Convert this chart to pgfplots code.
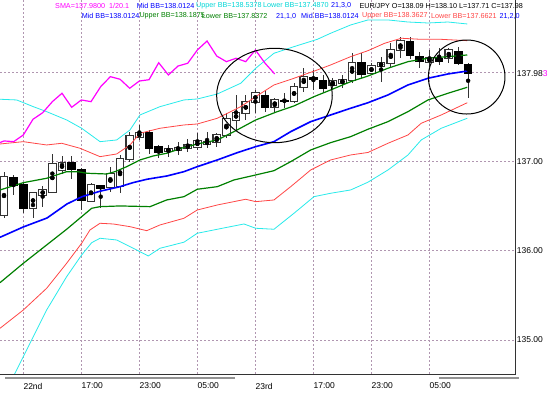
\documentclass[border=0pt]{standalone}
\usepackage{fontspec}
\setmainfont{Liberation Sans}
\usepackage{pgfplots}
\pgfplotsset{compat=1.18}
\usepackage{pgfplotstable}

\definecolor{mtmag}{RGB}{255,0,255}
\definecolor{mtblue}{RGB}{0,0,255}
\definecolor{mtcyan}{RGB}{40,235,235}
\definecolor{mtcyantxt}{RGB}{0,215,215}
\definecolor{mtgreen}{RGB}{0,128,0}
\definecolor{mtred}{RGB}{255,70,70}
\definecolor{gridc}{RGB}{176,150,176}
\newcommand{\hdr}{\fontsize{7.2}{8}\selectfont}
\newcommand{\lbl}{\fontsize{8.5}{10}\selectfont}

% white (rising) candles
\pgfplotstableread{
k O H L C
0 136.401 136.882 136.367 136.830
3 136.476 136.662 136.364 136.651
4 136.625 136.726 136.490 136.681
5 136.662 137.084 136.644 136.972
6 136.905 137.062 136.860 136.983
9 136.558 136.756 136.550 136.737
11 136.718 136.942 136.662 136.857
12 136.726 137.073 136.647 137.028
13 137.025 137.334 136.994 137.286
14 137.275 137.409 137.241 137.323
17 137.118 137.185 137.054 137.140
18 137.129 137.222 137.073 137.155
19 137.148 137.249 137.110 137.185
20 137.166 137.323 137.129 137.230
21 137.196 137.334 137.148 137.222
22 137.222 137.316 137.166 137.297
23 137.297 137.540 137.260 137.473
24 137.465 137.745 137.353 137.546
25 137.546 137.745 137.465 137.670
26 137.670 137.801 137.543 137.764
28 137.607 137.708 137.558 137.689
30 137.681 137.876 137.652 137.838
31 137.838 138.047 137.782 137.950
34 137.857 137.932 137.801 137.901
35 137.876 137.969 137.820 137.916
36 137.913 138.215 137.876 138.106
38 137.988 138.100 137.965 138.069
39 138.069 138.170 137.890 138.100
40 138.100 138.324 138.062 138.249
41 138.249 138.398 138.155 138.349
44 138.118 138.249 138.062 138.156
46 138.156 138.268 138.100 138.249
}\whitec

% black (falling) candles
\pgfplotstableread{
k O H L C
1 136.819 136.849 136.625 136.729
2 136.745 136.756 136.420 136.476
7 136.987 137.062 136.801 136.913
8 136.913 136.924 136.457 136.558
10 136.729 136.737 136.476 136.692
15 137.323 137.353 137.084 137.148
16 137.166 137.185 137.036 137.099
27 137.737 137.801 137.558 137.607
29 137.689 137.767 137.599 137.670
32 137.943 138.025 137.801 137.921
33 137.909 137.969 137.764 137.820
37 138.106 138.212 137.932 137.969
42 138.349 138.391 138.144 138.181
43 138.181 138.230 138.044 138.118
45 138.156 138.268 138.081 138.118
47 138.230 138.286 138.081 138.100
48 138.090 138.100 137.710 137.980
}\blackc

% SMA(1) shifted
\pgfplotstableread{
k v
-1 137.185
0 137.230
1 137.222
2 137.297
3 137.473
4 137.546
5 137.670
6 137.764
7 137.607
8 137.689
9 137.670
10 137.838
11 137.950
12 137.921
13 137.820
14 137.901
15 137.916
16 138.106
17 137.969
18 138.069
19 138.100
20 138.249
21 138.349
22 138.181
23 138.118
24 138.156
25 138.118
26 138.249
27 138.100
28 137.980
}\sma

\pgfplotsset{
  body/.style 2 args={only marks, mark=none, forget plot,
    error bars/.cd, y dir=both, y explicit, error mark=none,
    error bar style={line width=#1, #2}},
}

\begin{document}
\begin{tikzpicture}
\useasboundingbox (0,0) rectangle (552pt,393pt);
\fill[white] (0,0) rectangle (552pt,393pt);
\begin{axis}[at={(0pt,19pt)}, anchor=south west, scale only axis,
  width=515.7pt, height=374pt,
  xmin=-0.414, xmax=52.92, ymin=134.620, ymax=138.8085,
  axis line style={draw=none}, major tick length=0pt,
  xtick={2,8,14,20,26,32,38,44},
  xticklabels={22nd,17:00,23:00,05:00,23rd,17:00,23:00,05:00},
  xticklabel style={anchor=west, inner sep=0pt, yshift=-12pt, font=\lbl},
  ytick={135,136,137,138}, yticklabels={135.00,136.00,137.00,{}},
  yticklabel pos=right,
  yticklabel style={anchor=west, inner sep=0pt, xshift=1pt, font=\lbl},
  grid=major, major grid style={gridc, dash pattern=on 2pt off 2pt, line width=0.6pt},
]
% wicks
\addplot[body={1pt}{black!80}]
  table[x=k, y expr={(\thisrow{H}+\thisrow{L})/2}, y error expr={(\thisrow{H}-\thisrow{L})/2}] {\whitec};
\addplot[body={1pt}{black!80}]
  table[x=k, y expr={(\thisrow{H}+\thisrow{L})/2}, y error expr={(\thisrow{H}-\thisrow{L})/2}] {\blackc};
% black bodies
\addplot[body={8.6pt}{black}]
  table[x=k, y expr={(\thisrow{O}+\thisrow{C})/2}, y error expr={(\thisrow{O}-\thisrow{C})/2+0.004}] {\blackc};
% white bodies: dark outline, then white fill
\addplot[body={8.6pt}{black!80}]
  table[x=k, y expr={(\thisrow{O}+\thisrow{C})/2}, y error expr={(\thisrow{C}-\thisrow{O})/2+0.011}] {\whitec};
\addplot[body={6.4pt}{white}]
  table[x=k, y expr={(\thisrow{O}+\thisrow{C})/2}, y error expr={(\thisrow{C}-\thisrow{O})/2}] {\whitec};

% Bollinger 3 sigma (cyan)
\addplot[mtcyan, line width=0.8pt, mark=none] coordinates {
(-0.41,137.697) (1.31,137.689) (3.03,137.614) (4.41,137.558) (6.48,137.465) (8.03,137.372)
(9.93,137.222) (11.65,137.241) (13.03,137.353) (14.06,137.521) (16.13,137.614) (18.61,137.689)
(19.99,137.700) (22.06,137.756) (24.48,137.876) (26.03,138.044) (27.92,138.212) (29.99,138.286)
(32.4,138.368) (33.78,138.436) (35.85,138.529) (37.64,138.585) (39.71,138.585) (41.78,138.562)
(43.85,138.551) (45.91,138.562) (47.91,138.540)};
\addplot[mtcyan, line width=0.8pt, mark=none] coordinates {
(-0.41,134.296) (1.65,134.740) (3.03,135.038) (4.41,135.337) (6.48,135.710) (8.03,135.953)
(9.07,136.091) (9.93,136.140) (11.65,136.121) (13.37,136.028) (14.92,135.942) (16.13,136.028)
(18.61,136.096) (19.99,136.196) (22.06,136.241) (24.82,136.300) (26.03,136.252) (27.92,136.241)
(29.99,136.420) (32.06,136.606) (33.78,136.644) (35.85,136.681) (37.64,136.768) (39.71,136.905)
(41.78,137.073) (43.15,137.241) (45.22,137.372) (47.91,137.484)};
% Bollinger 2 sigma (red)
\addplot[mtred, line width=0.8pt, mark=none] coordinates {
(-0.41,137.196) (2.0,137.222) (4.41,137.185) (5.97,137.204) (7.86,137.148) (9.93,137.054)
(11.65,137.084) (13.03,137.185) (14.06,137.316) (16.13,137.372) (18.61,137.409) (19.99,137.420)
(22.06,137.484) (24.48,137.614) (26.03,137.726) (27.92,137.857) (29.99,137.932) (32.4,138.025)
(33.78,138.081) (35.85,138.174) (37.64,138.241) (39.37,138.324) (41.09,138.380) (43.15,138.368)
(45.22,138.368) (47.91,138.353)};
\addplot[mtred, line width=0.8pt, mark=none] coordinates {
(-0.41,135.132) (2.0,135.337) (4.41,135.580) (6.48,135.860) (8.03,136.084) (8.89,136.233)
(9.93,136.308) (11.3,136.300) (13.03,136.270) (14.76,136.225) (16.13,136.289) (18.61,136.364)
(19.99,136.457) (22.06,136.513) (25.0,136.577) (26.03,136.550) (27.92,136.569) (29.65,136.718)
(31.72,136.905) (33.78,137.017) (35.85,137.073) (37.64,137.101) (39.71,137.204) (41.78,137.297)
(43.15,137.428) (45.22,137.521) (47.91,137.658)};
% Bollinger 1 sigma (green)
\addplot[mtgreen, line width=1.2pt, mark=none] coordinates {
(-0.41,136.681) (2.0,136.763) (4.41,136.812) (6.48,136.886) (7.58,136.886) (8.61,136.868)
(10.62,136.860) (11.48,136.886) (12.69,136.942) (14.06,137.017) (15.44,137.062) (16.82,137.092)
(18.61,137.157) (19.99,137.196) (22.06,137.241) (23.78,137.334) (26.03,137.465) (28.26,137.558)
(29.99,137.622) (32.06,137.726) (33.78,137.801) (35.85,137.894) (37.64,137.957) (39.71,138.044)
(41.78,138.118) (43.85,138.156) (45.91,138.174) (47.91,138.193)};
\addplot[mtgreen, line width=1.2pt, mark=none] coordinates {
(-0.41,135.643) (2.0,135.860) (4.41,136.065) (6.48,136.241) (8.03,136.382) (9.07,136.476)
(9.93,136.494) (12.0,136.502) (15.1,136.494) (16.82,136.569) (18.61,136.606) (19.99,136.689)
(22.06,136.718) (23.78,136.793) (26.03,136.849) (27.92,136.897) (29.65,136.998) (31.72,137.129)
(33.78,137.211) (35.85,137.278) (37.64,137.361) (39.71,137.446) (41.78,137.558) (43.85,137.689)
(45.91,137.764) (47.91,137.831)};
% middle band (blue)
\addplot[mtblue, line width=1.6pt, mark=none] coordinates {
(-0.41,136.151) (2.0,136.267) (4.45,136.367) (6.51,136.524) (8.07,136.606) (9.93,136.667)
(12.0,136.718) (13.34,136.763) (14.79,136.801) (16.86,136.838) (18.61,136.886) (19.99,136.942)
(22.06,137.017) (24.13,137.099) (26.03,137.166) (27.92,137.222) (29.65,137.334) (31.72,137.446)
(33.78,137.521) (35.85,137.596) (37.64,137.658) (39.71,137.745) (41.78,137.857) (43.85,137.932)
(45.91,137.980) (47.91,138.013)};
% shifted SMA (magenta)
\addplot[mtmag, line width=1.2pt, mark=none] table[x=k, y=v] {\sma};

% annotation ellipses
\draw[black, line width=1pt] (axis cs:27.97,137.739) ellipse [x radius=57.8pt, y radius=47.2pt];
\draw[black, line width=1pt] (axis cs:47.85,137.946) ellipse [x radius=38.3pt, y radius=37pt];
\end{axis}

% frame
\draw[black!80, line width=0.9pt] (0pt,19pt) -- (515.7pt,19pt) -- (515.7pt,393pt);
% bottom gray bars
\fill[gray!85] (5pt,14pt) rectangle (235pt,16.4pt);
\fill[gray!85] (438.5pt,14pt) rectangle (519pt,16.4pt);
% current price label
\node[anchor=west, inner sep=0pt, font=\lbl] at (516.7pt,319.3pt) {137.98\textcolor{mtmag}{3}};

% header texts
\node[anchor=west, inner sep=0pt, font=\hdr, text=mtmag] at (55pt,387.5pt) {SMA=137.9800\ \ 1/20.1};
\node[anchor=west, inner sep=0pt, font=\hdr, text=mtblue] at (136.7pt,387.5pt) {Mid BB=138.0124};
\node[anchor=west, inner sep=0pt, font=\hdr, text=mtcyantxt] at (196pt,387.5pt) {Upper BB=138.5378};
\node[anchor=west, inner sep=0pt, font=\hdr, text=mtcyantxt] at (263pt,387.5pt) {Lower BB=137.4870};
\node[anchor=west, inner sep=0pt, font=\hdr, text=mtblue] at (331pt,387.5pt) {21,3,0};
\node[anchor=west, inner sep=0pt, font=\hdr, text=black] at (359.3pt,387.5pt) {EUR/JPY O=138.09 H=138.10 L=137.71 C=137.98};

\node[anchor=west, inner sep=0pt, font=\hdr, text=mtblue] at (81.7pt,377pt) {Mid BB=138.0124};
\node[anchor=west, inner sep=0pt, font=\hdr, text=mtgreen] at (139.3pt,377pt) {Upper BB=138.1875};
\node[anchor=west, inner sep=0pt, font=\hdr, text=mtgreen] at (201.7pt,377pt) {Lower BB=137.8372};
\node[anchor=west, inner sep=0pt, font=\hdr, text=mtblue] at (276pt,377pt) {21,1,0};
\node[anchor=west, inner sep=0pt, font=\hdr, text=mtblue] at (301pt,377pt) {Mid BB=138.0124};
\node[anchor=west, inner sep=0pt, font=\hdr, text=mtred] at (362pt,377pt) {Upper BB=138.3627};
\node[anchor=west, inner sep=0pt, font=\hdr, text=mtred] at (431pt,377pt) {Lower BB=137.6621};
\node[anchor=west, inner sep=0pt, font=\hdr, text=mtblue] at (499.3pt,377pt) {21,2,0};
\end{tikzpicture}
\end{document}
